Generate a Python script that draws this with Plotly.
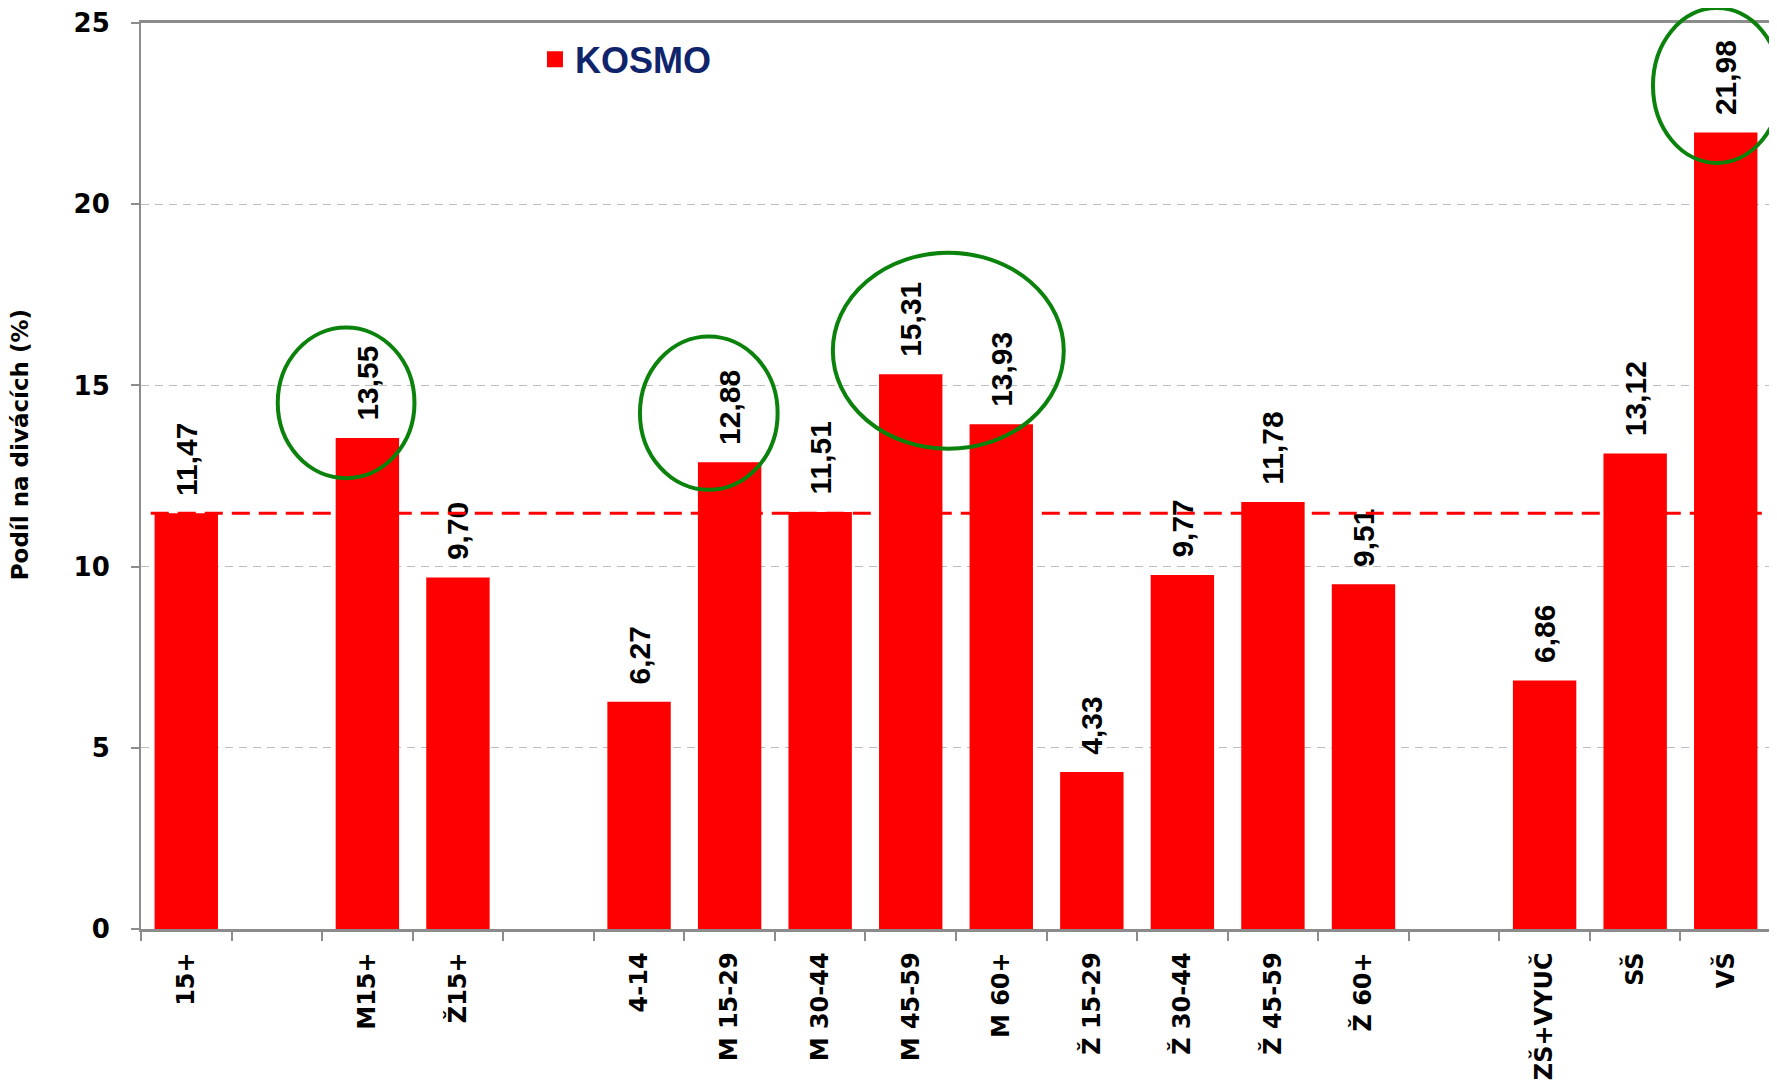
import plotly.graph_objects as go

# ---- data ----
categories = ["15+", " ", "M15+", "Ž15+", "  ", "4-14", "M 15-29", "M 30-44",
              "M 45-59", "M 60+", "Ž 15-29", "Ž 30-44", "Ž 45-59", "Ž 60+",
              "   ", "ZŠ+VYUČ", "SŠ", "VŠ"]
kosmo = [11.47, None, 13.55, 9.70, None, 6.27, 12.88, 11.51,
         15.31, 13.93, 4.33, 9.77, 11.78, 9.51,
         None, 6.86, 13.12, 21.98]
series_name = "KOSMO"
reference_value = kosmo[0]
y_ticks = [0, 5, 10, 15, 20, 25]
y_title = "Podíl na divácích (%)"

RED = "#ff0000"
GREEN = "#0b820b"
GRID = "#bdbdbd"
AXIS = "#8c8c8c"

fig = go.Figure()
fig.add_trace(go.Bar(
    x=categories, y=kosmo, name=series_name,
    marker=dict(color=RED, line=dict(width=0)),
    texttemplate="\u00a0\u2009%{y:.2f}",
    textposition="outside", textangle=-90,
    textfont=dict(family="Liberation Sans", size=30, color="black", weight="bold"),
    constraintext="none", cliponaxis=False,
    showlegend=False, legendgroup="kosmo",
))
# legend entry (larger square swatch) for the same series
fig.add_trace(go.Scatter(
    x=[None], y=[None], mode="markers", name=series_name, legendgroup="kosmo",
    marker=dict(symbol="square", size=16, color=RED), showlegend=True,
))

# dashed reference line at the 15+ value
fig.add_shape(type="line", xref="x domain", yref="y",
              x0=0.006, x1=1, y0=reference_value, y1=reference_value,
              line=dict(color=RED, width=3, dash="18px,9px"), layer="above")

# green highlight ellipses
ell = dict(type="circle", line=dict(color=GREEN, width=4), fillcolor="rgba(0,0,0,0)", layer="above")
fig.add_shape(xref="x", yref="y", x0=1.01, x1=2.52, y0=12.44, y1=16.60, **ell)
fig.add_shape(xref="x", yref="y", x0=5.01, x1=6.53, y0=12.12, y1=16.35, **ell)
fig.add_shape(xref="x", yref="y", x0=7.14, x1=9.69, y0=13.25, y1=18.66, **ell)
fig.add_shape(xref="x domain", yref="y domain", x0=0.9276, x1=1.006, y0=0.8455, y1=1.0166, **ell)

# y-axis title placed as in the original (slightly above centre)
fig.add_annotation(text=y_title, xref="paper", yref="paper", x=-0.0742, y=0.534,
                   xanchor="center", yanchor="middle", textangle=-90, showarrow=False,
                   font=dict(family="DejaVu Sans", size=23, color="black", weight="bold"))

fig.update_layout(
    width=1769, height=1075,
    margin=dict(l=133, r=6, t=15, b=154, autoexpand=False),
    paper_bgcolor="white", plot_bgcolor="white",
    separators=", ",
    bargap=0.3,
    showlegend=True,
    legend=dict(x=0.2417, y=0.960, xanchor="left", yanchor="middle",
                font=dict(family="Liberation Sans", size=36, color="#10246b", weight="bold"),
                bgcolor="rgba(0,0,0,0)"),
    xaxis=dict(
        type="category", categoryorder="array", categoryarray=categories,
        tickson="boundaries", ticks="outside", ticklen=9, tickwidth=1.5, tickcolor=AXIS,
        tickangle=-90, ticklabelstandoff=11,
        tickfont=dict(family="DejaVu Sans", size=24, color="black", weight="bold"),
        showline=True, linecolor=AXIS, linewidth=2.5, mirror=True,
        showgrid=False, automargin=False,
    ),
    yaxis=dict(
        range=[0, 25], tickvals=y_ticks,
        ticks="outside", ticklen=8, tickwidth=1.5, tickcolor=AXIS,
        ticklabelstandoff=16,
        tickfont=dict(family="DejaVu Sans", size=26, color="black", weight="bold"),
        showline=True, linecolor=AXIS, linewidth=2, mirror=True,
        showgrid=True, gridcolor=GRID, gridwidth=1.2, griddash="8px,6px",
        zeroline=False, automargin=False,
    ),
)

fig.write_html("out.html")
